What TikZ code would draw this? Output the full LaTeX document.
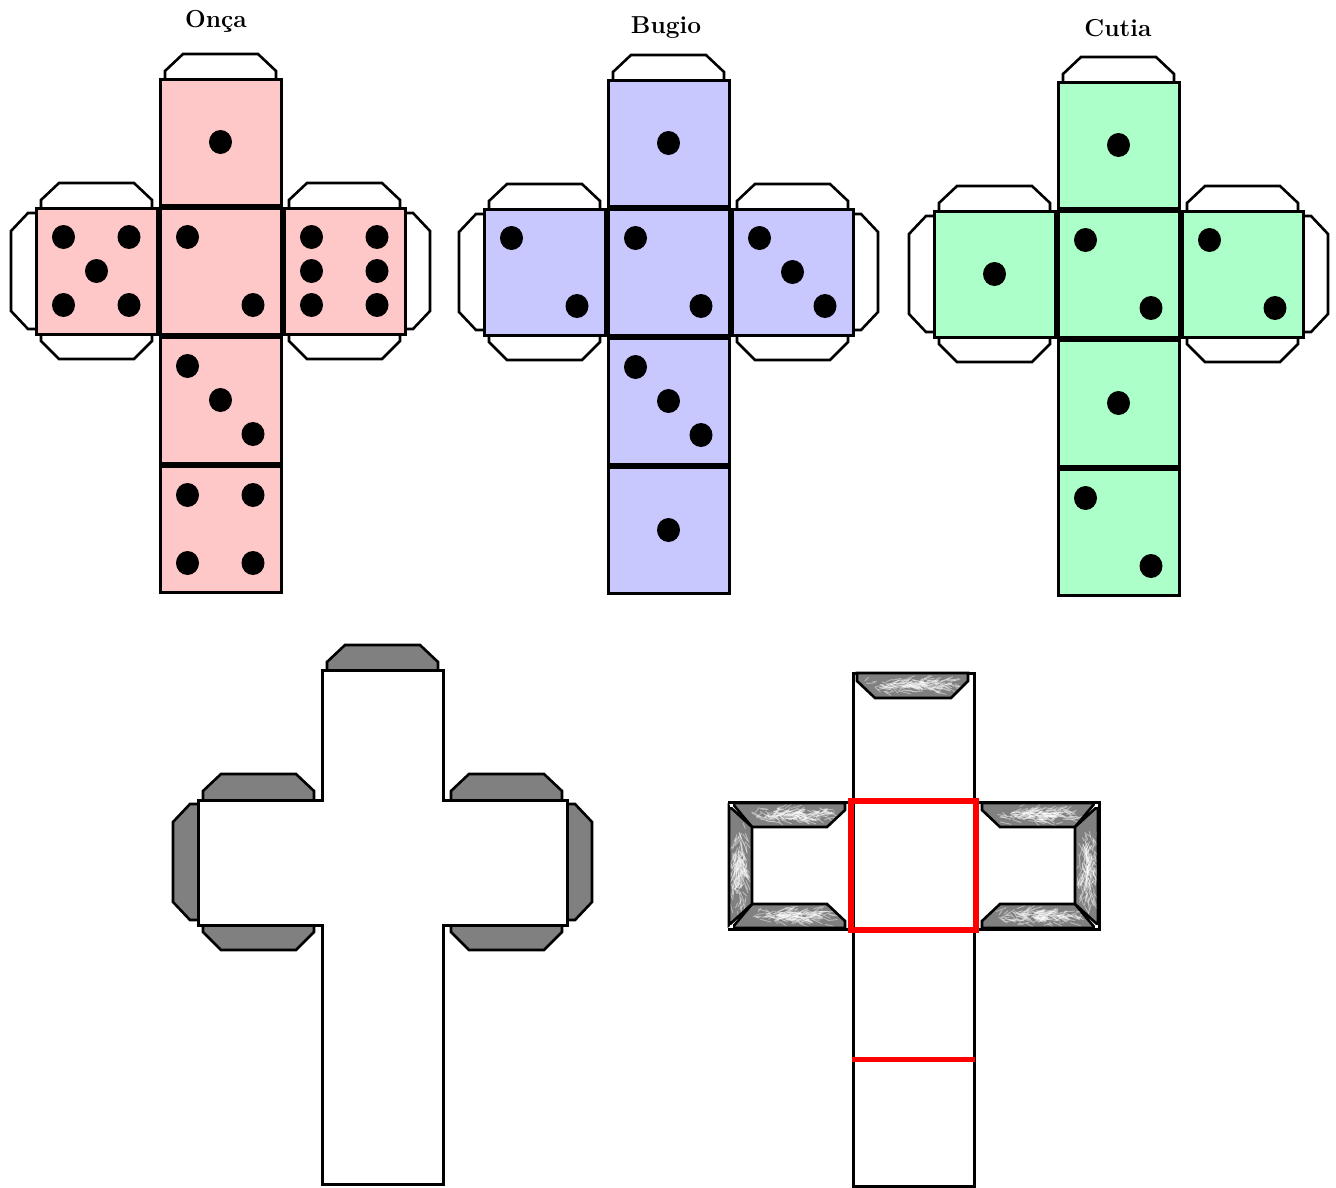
\documentclass[tikz,border=0pt]{standalone}
\usepackage{fontspec}
\definecolor{onca}{RGB}{255,200,200}
\definecolor{bugio}{RGB}{200,200,255}
\definecolor{cutia}{RGB}{172,255,200}
\definecolor{flapgray}{RGB}{128,128,128}
\tikzset{
  edge/.style={draw=black,line width=3pt},
  flapw/.style={draw=black,line width=2.6pt,fill=white},
  flapg/.style={draw=black,line width=2.6pt,fill=flapgray},
  facebox/.style={edge},
  pip/.style={fill=black,draw=none},
  title/.style={font=\fontsize{24.5}{26}\selectfont\bfseries\addfontfeatures{FakeBold=1},inner sep=0pt},
  redline/.style={draw=red,line width=6pt},
  streak/.style={draw=white,line width=1pt,opacity=.42,line cap=round}
}
% flaps of a net, origin at the top-left corner of the top face
\newcommand{\netflaps}[1]{%
  \draw[#1] (5,0)--(5,-8)--(23,-25)--(98,-25)--(116,-8)--(116,0);
  \foreach \fx in {-124,124}{
    \draw[#1] (\fx+5,129)--(\fx+5,121)--(\fx+23,104)--(\fx+98,104)--(\fx+116,121)--(\fx+116,129);
    \draw[#1] (\fx+5,255)--(\fx+5,262)--(\fx+23,280)--(\fx+98,280)--(\fx+116,262)--(\fx+116,255);
  }
  \draw[#1] (-124,134)--(-132,134)--(-149,152)--(-149,232)--(-132,250)--(-124,250);
  \draw[#1] (245,134)--(253,134)--(270,152)--(270,232)--(253,250)--(245,250);
}
\newcommand{\dieface}[4]{%
  \begin{scope}[shift={(#1,#2)}]
    \fill[#3] (0,0) rectangle (121,126);
    \draw[facebox] (0,0) rectangle (121,126);
    \foreach \pa/\pb in #4 {\fill[pip] (\pa,\pb) ellipse [x radius=11.5,y radius=12];}
  \end{scope}}
\newcommand{\dienet}[9]{%
  \begin{scope}[shift={(#1,#2)}]
    \netflaps{flapw}
    \dieface{0}{0}{#3}{#4}
    \dieface{-124}{129}{#3}{#5}
    \dieface{0}{129}{#3}{#6}
    \dieface{124}{129}{#3}{#7}
    \dieface{0}{258}{#3}{#8}
    \dieface{0}{387}{#3}{#9}
  \end{scope}}
\def\Pone{60.5/63}
\def\Ptwo{27.5/29,93/97}
\def\Pthree{27.5/29,60.5/63,93/97}
\def\Pfour{27.5/29,93/29,27.5/97,93/97}
\def\Pfive{27.5/29,93/29,60.5/63,27.5/97,93/97}
\def\Psix{27.5/29,93/29,27.5/63,93/63,27.5/97,93/97}
% textured flap: #1 = polygon path, #2 x0, #3 y0, #4 x size, #5 y size, #6 streak dx, #7 streak dy
\newcommand{\texflap}[7]{%
  \fill[flapgray] #1;
  \begin{scope}
    \clip #1;
    \foreach \k in {1,...,170}{
      \pgfmathsetmacro{\sx}{#2+#4*(rnd+rnd)/2}
      \pgfmathsetmacro{\sy}{#3+#5*(rnd+rnd+rnd)/3}
      \pgfmathsetmacro{\sl}{.3+rnd}
      \pgfmathsetmacro{\sw}{(rnd-.5)*1.1}
      \draw[streak] (\sx,\sy) -- ++({#6*\sl+#7*\sw},{#7*\sl+#6*\sw});
    }
  \end{scope}
  \draw[draw=black,line width=2.6pt] #1;
}
\begin{document}
\begin{tikzpicture}[x=1pt,y=-1pt]
\useasboundingbox (0,0) rectangle (1336,1187);
\pgfmathsetseed{1234}
% titles
\node[title] (t1) at (216,21.5) {Onça};
\node[title] (t2) at (666,28) {Bugio};
\node[title] (t3) at (1118,28) {Cutia};
% dice
\dienet{160}{79}{onca}{\Pone}{\Pfive}{\Ptwo}{\Psix}{\Pthree}{\Pfour}
\dienet{608}{80}{bugio}{\Pone}{\Ptwo}{\Ptwo}{\Pthree}{\Pthree}{\Pone}
\dienet{1058}{82}{cutia}{\Pone}{\Pone}{\Ptwo}{\Ptwo}{\Pone}{\Ptwo}
% grey-flap cross
\begin{scope}[shift={(322,670)}]
  \netflaps{flapg}
  \draw[edge,fill=white] (0,0)--(121,0)--(121,130)--(245,130)--(245,255)--(121,255)--(121,514)--(0,514)--(0,255)--(-124,255)--(-124,130)--(0,130)--cycle;
\end{scope}
% textured cross
\draw[edge] (853,673)--(974,673)--(974,1186)--(853,1186)--cycle;
\texflap{(857,673)--(857,681)--(875,698)--(951,698)--(968,681)--(968,673)--cycle}{862}{675}{100}{20}{9}{0}
\texflap{(732,803)--(845,803)--(845,810)--(827,827)--(752,827)--cycle}{745}{805}{90}{20}{9}{0}
\texflap{(732,928)--(845,928)--(845,921)--(827,904)--(752,904)--cycle}{745}{906}{90}{20}{9}{0}
\texflap{(729,806)--(752,827)--(752,904)--(729,925)--cycle}{729}{812}{21}{108}{0}{9}
\texflap{(982,803)--(1095,803)--(1075,827)--(1000,827)--(982,810)--cycle}{992}{805}{90}{20}{9}{0}
\texflap{(982,928)--(1095,928)--(1075,904)--(1000,904)--(982,921)--cycle}{992}{906}{90}{20}{9}{0}
\texflap{(1098,806)--(1075,827)--(1075,904)--(1098,925)--cycle}{1077}{812}{21}{108}{0}{9}
\draw[edge] (728,802) -- (850,802) (977,802) -- (1099,802) -- (1099,929) -- (977,929) (850,929) -- (728,929) -- cycle;
\fill[white] (729.5,803.5) rectangle (732.5,806.5);
\fill[white] (729.5,924.5) rectangle (732.5,927.5);
\fill[white] (1094.5,803.5) rectangle (1097.5,806.5);
\fill[white] (1094.5,924.5) rectangle (1097.5,927.5);
\draw[redline] (850.5,800.5) rectangle (975.5,930);
\draw[redline,line width=5pt] (852,1059)--(975,1059);
\end{tikzpicture}
\end{document}
